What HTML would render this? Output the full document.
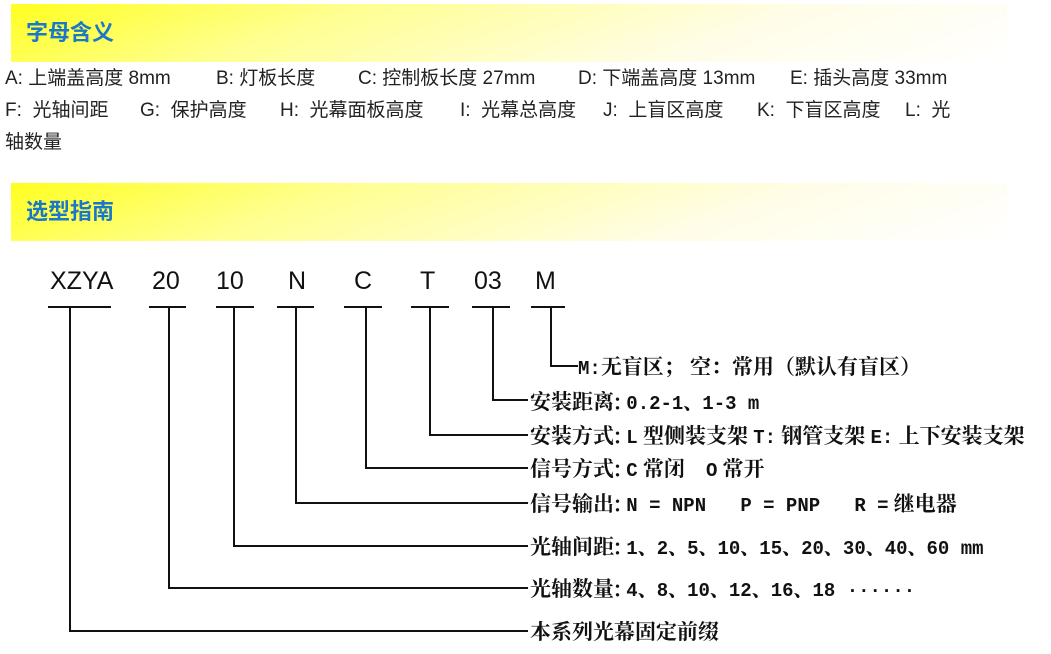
<!DOCTYPE html>
<html><head><meta charset="utf-8"><style>
body{margin:0;width:1051px;height:654px;background:#fff;position:relative;overflow:hidden;font-family:"Liberation Sans","Noto Sans CJK SC",sans-serif}
.band{position:absolute;left:11px;width:996px;height:58px;background:linear-gradient(160deg,#ffff20 0%,#ffff90 30%,#fffde8 70%,#fff 100%)}
.band span{position:absolute;left:15px;top:11px;font-size:22px;font-weight:bold;color:#1a78c8;font-family:"Noto Sans CJK SC",sans-serif}
.t{position:absolute;font-size:19px;color:#222;white-space:nowrap;line-height:22px}
.c{position:absolute;font-size:25px;color:#111;top:266px;white-space:nowrap;line-height:30px}
.r{position:absolute;left:530px;font-size:21px;font-weight:bold;color:#111;white-space:nowrap;line-height:24px;font-family:"Noto Serif CJK SC","Liberation Serif",serif}
.r b{font-family:"Liberation Mono","Noto Serif CJK SC",monospace;font-size:19px}
</style></head><body>
<div class="band" style="top:4px"><span>字母含义</span></div>
<div class="band" style="top:183px"><span>选型指南</span></div>

<div class="t" style="left:5px;top:68px">A: 上端盖高度 8mm</div>
<div class="t" style="left:216px;top:68px">B: 灯板长度</div>
<div class="t" style="left:358px;top:68px">C: 控制板长度 27mm</div>
<div class="t" style="left:578px;top:68px">D: 下端盖高度 13mm</div>
<div class="t" style="left:790px;top:68px">E: 插头高度 33mm</div>
<div class="t" style="left:5px;top:100px">F:&nbsp; 光轴间距</div>
<div class="t" style="left:140px;top:100px">G:&nbsp; 保护高度</div>
<div class="t" style="left:280px;top:100px">H:&nbsp; 光幕面板高度</div>
<div class="t" style="left:460px;top:100px">I:&nbsp; 光幕总高度</div>
<div class="t" style="left:603px;top:100px">J:&nbsp; 上盲区高度</div>
<div class="t" style="left:757px;top:100px">K:&nbsp; 下盲区高度</div>
<div class="t" style="left:905px;top:100px">L:&nbsp; 光</div>
<div class="t" style="left:5px;top:132px">轴数量</div>

<div class="c" style="left:50px">XZYA</div>
<div class="c" style="left:152px">20</div>
<div class="c" style="left:216px">10</div>
<div class="c" style="left:288px">N</div>
<div class="c" style="left:354px">C</div>
<div class="c" style="left:420px">T</div>
<div class="c" style="left:474px">03</div>
<div class="c" style="left:535px">M</div>

<svg width="1051" height="654" style="position:absolute;left:0;top:0" fill="none" stroke="#111" stroke-width="2">
<path d="M48 307H111M70 307V631H528"/>
<path d="M149 307H186M169 307V588H528"/>
<path d="M216 307H254M234 307V546H528"/>
<path d="M277 307H314M296 307V503H528"/>
<path d="M344 307H382M366 307V468H528"/>
<path d="M411 307H449M430 307V435H528"/>
<path d="M472 307H510M493 307V400H528"/>
<path d="M531 307H565M551 307V366H578"/>
</svg>

<div class="r" style="left:578px;top:354px"><b>M:</b>无盲区；  空：常用（默认有盲区）</div>
<div class="r" style="top:389px">安装距离: <b>0.2-1、1-3 m</b></div>
<div class="r" style="top:423px">安装方式: <b>L</b> 型侧装支架 <b>T:</b> 钢管支架 <b>E:</b> 上下安装支架</div>
<div class="r" style="top:456px">信号方式: <b>C</b> 常闭&nbsp;&nbsp;&nbsp; <b>O</b> 常开</div>
<div class="r" style="top:491px">信号输出: <b>N = NPN&nbsp;&nbsp; P = PNP&nbsp;&nbsp; R =</b> 继电器</div>
<div class="r" style="top:534px">光轴间距: <b>1、2、5、10、15、20、30、40、60 mm</b></div>
<div class="r" style="top:576px">光轴数量: <b>4、8、10、12、16、18 ······</b></div>
<div class="r" style="top:619px">本系列光幕固定前缀</div>
</body></html>
